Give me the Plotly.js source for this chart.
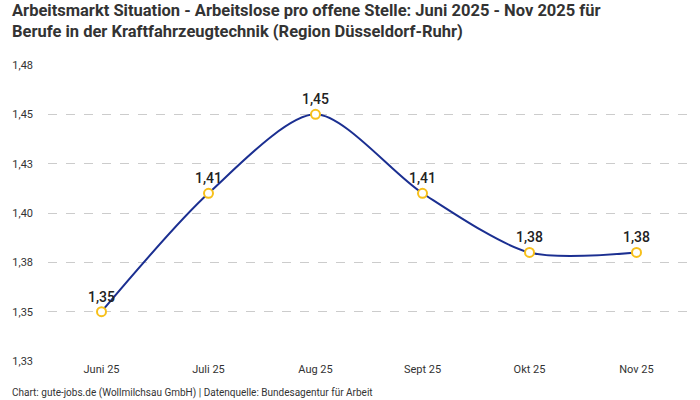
<!DOCTYPE html>
<html>
<head>
<meta charset="utf-8">
<script src="https://cdn.plot.ly/plotly-3.0.1.min.js"></script>
<style>
  body { margin: 0; }
  #plot { width: 700px; height: 400px; }
</style>
</head>
<body>
<div id="plot"></div>
<script>
// months shown on the x axis
var months = ['Juni 25', 'Juli 25', 'Aug 25', 'Sept 25', 'Okt 25', 'Nov 25'];
// unemployed per open position
var ratio = [1.35, 1.41, 1.45, 1.41, 1.38, 1.38];
// y axis ticks and their labels
var yTicks = [1.325, 1.35, 1.375, 1.4, 1.425, 1.45, 1.475];
var yTickText = ['1,33', '1,35', '1,38', '1,40', '1,43', '1,45', '1,48'];

var p = document.getElementById('plot');

var trace = {
  x: months,
  y: ratio,
  type: 'scatter',
  mode: 'lines+markers+text',
  line: { color: '#1b2f91', width: 2, shape: 'spline', smoothing: 0.8 },
  marker: { size: 9, color: '#ffffff', line: { color: '#f7c01b', width: 2 } },
  texttemplate: '%{y:.2f}',
  textposition: 'top center',
  textfont: { family: 'Roboto, sans-serif', size: 14, color: '#222222', weight: 500 },
  hoverinfo: 'none',
  cliponaxis: false
};

var layout = {
  width: 700,
  height: 400,
  separators: ',.',
  font: { family: 'Roboto, sans-serif', color: '#333333' },
  paper_bgcolor: '#ffffff',
  plot_bgcolor: '#ffffff',
  showlegend: false,
  margin: { l: 48, r: 10, t: 65, b: 39 },
  xaxis: {
    type: 'category',
    range: [-0.5, 5.5],
    showgrid: false,
    zeroline: false,
    showline: false,
    ticks: '',
    tickfont: { size: 11, color: '#333333' }
  },
  yaxis: {
    range: [1.325, 1.475],
    tickvals: yTicks,
    ticktext: yTickText,
    showgrid: true,
    gridcolor: '#cccccc',
    griddash: 'dash',
    gridwidth: 1,
    zeroline: false,
    showline: false,
    ticks: '',
    ticklabelstandoff: 14,
    tickfont: { size: 11, color: '#333333' }
  },
  annotations: [{
    // chart title, two lines
    text: '<b>Arbeitsmarkt Situation - Arbeitslose pro offene Stelle: Juni 2025 - Nov 2025 für<br>Berufe in der Kraftfahrzeugtechnik (Region Düsseldorf-Ruhr)</b>',
    xref: 'paper', yref: 'paper',
    x: -0.059, xanchor: 'left',
    y: 1.147, yanchor: 'middle',
    align: 'left',
    showarrow: false,
    font: { size: 16.5, color: '#333333' }
  }, {
    text: 'Chart: gute-jobs.de (Wollmilchsau GmbH) | Datenquelle: Bundesagentur für Arbeit',
    xref: 'paper', yref: 'paper',
    x: -0.059, xanchor: 'left',
    y: -0.108, yanchor: 'middle',
    showarrow: false,
    font: { size: 10, color: '#333333' }
  }]
};

Plotly.newPlot(p, [trace], layout, { displayModeBar: false, staticPlot: true });
</script>
</body>
</html>
